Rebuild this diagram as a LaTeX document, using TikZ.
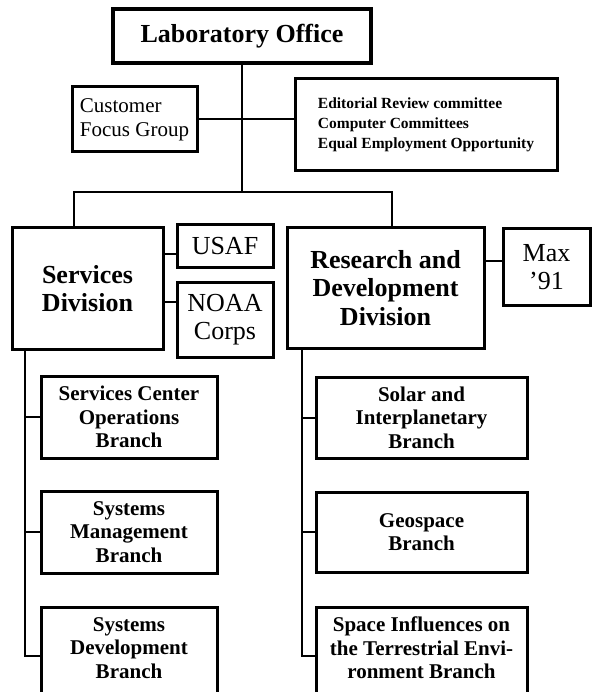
\documentclass[tikz,border=0pt]{standalone}
\usepackage{fontspec}
\setmainfont{Liberation Serif}

\begin{document}
\begin{tikzpicture}[x=1pt, y=-1pt,
        box/.style={draw, line width=3pt, inner sep=0pt, align=center},
        conn/.style={line width=2pt},
        head/.style={font=\fontsize{26}{28.5}\selectfont\bfseries},
        plain/.style={font=\fontsize{26}{28}\selectfont},
        branch/.style={box, minimum width=176pt, font=\fontsize{21}{23.5}\selectfont\bfseries},
        rbranch/.style={branch, minimum width=211pt}]
        \useasboundingbox (0,0) rectangle (592,692);
        \clip (0,0) rectangle (592,692);

        % top office and its staff groups
        \node[box, line width=4.5pt, minimum width=258pt, minimum height=54pt, head] (lab) at (242,36) {Laboratory Office};
        \node[box, align=left, minimum width=125pt, minimum height=65pt, font=\fontsize{21}{24}\selectfont] (cfg) at (134.5,119.5) {Customer\\Focus Group};
        \node[box, align=left, minimum width=262pt, minimum height=92pt, font=\fontsize{15.5}{20}\selectfont\bfseries] (erc) at (426,125) {Editorial Review committee\\Computer Committees\\Equal Employment Opportunity};

        % divisions
        \node[box, minimum width=151pt, minimum height=121pt, head] (svc) at (87.5,288.5) {Services\\Division};
        \node[box, minimum width=197pt, minimum height=120pt, head] (rnd) at (385.5,288) {Research and\\Development\\Division};
        \node[box, minimum width=96pt, minimum height=42pt, plain] (usaf) at (225,246) {USAF};
        \node[box, minimum width=96pt, minimum height=75pt, plain] (noaa) at (225,319.5) {NOAA\\Corps};
        \node[box, minimum width=87pt, minimum height=76pt, plain] (max) at (546.5,267) {Max\\’91};

        % branches
        \node[branch, minimum height=82pt] (sco) at (129,417) {Services Center\\Operations\\Branch};
        \node[branch, minimum height=82pt] (smb) at (129,532) {Systems\\Management\\Branch};
        \node[branch, minimum height=98pt] (sdb) at (129,656) {};
        \node[font=\fontsize{21}{23.5}\selectfont\bfseries, align=center] (sdt) at ([yshift=8pt]sdb.center) {Systems\\Development\\Branch};
        \node[rbranch, minimum height=81pt] (sib) at (421.5,417.5) {Solar and\\Interplanetary\\Branch};
        \node[rbranch, minimum height=80pt] (geo) at (421.5,532) {Geospace\\Branch};
        \node[rbranch, minimum height=98pt] (ste) at (421.5,656) {};
        \node[font=\fontsize{21}{23.5}\selectfont\bfseries, align=center] (stt) at ([yshift=8pt]ste.center) {Space Influences on\\the Terrestrial Envi-\\ronment Branch};

        \coordinate (hub) at (242,192);
        \coordinate (sd) at (74,0);
        \coordinate (rd) at (392,0);
        \coordinate (lsp) at (25,0);
        \coordinate (rsp) at (302,0);

        \draw[conn] (lab.south) -- (hub);
        \draw[conn] (cfg.east) -- (cfg.east -| erc.west);
        \draw[conn] (svc.north -| sd) -- (sd |- hub) -- (rd |- hub) -- (rnd.north -| rd);
        \draw[conn] ([yshift=-8pt]usaf.west) -- ([yshift=-8pt]usaf.west -| svc.east);
        \draw[conn] ([yshift=17.5pt]noaa.west) -- ([yshift=17.5pt]noaa.west -| svc.east);
        \draw[conn] ([yshift=6pt]max.west) -- ([yshift=6pt]max.west -| rnd.east);

        \draw[conn] (svc.south -| lsp) |- (sdb.west);
        \draw[conn] (sco.west) -- (sco.west -| lsp);
        \draw[conn] (smb.west) -- (smb.west -| lsp);
        \draw[conn] (rnd.south -| rsp) |- (ste.west);
        \draw[conn] (sib.west) -- (sib.west -| rsp);
        \draw[conn] (geo.west) -- (geo.west -| rsp);
\end{tikzpicture}
\end{document}
